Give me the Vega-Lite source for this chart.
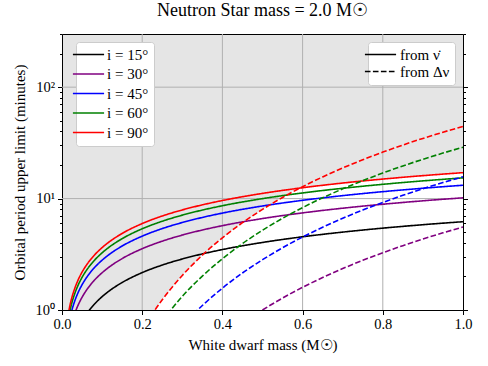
{
  "$schema": "https://vega.github.io/schema/vega-lite/v6.json",
  "width": 401,
  "height": 276,
  "autosize": {"type": "none"},
  "padding": {"left": 62, "top": 34, "right": 25, "bottom": 56},
  "config": {
    "font": "Liberation Serif",
    "view": {"fill": "#e5e5e5", "stroke": "black", "strokeWidth": 1},
    "axis": {"labelFont": "Liberation Serif", "titleFont": "Liberation Serif", "labelColor": "black", "titleColor": "black", "tickColor": "black", "titleFontWeight": "normal"},
    "legend": {"labelFont": "Liberation Serif", "labelColor": "black"}
  },
  "title": {"text": "Neutron Star mass = 2.0 M☉", "fontSize": 18, "fontWeight": "normal", "font": "Liberation Serif", "offset": 6, "color": "black"},
  "datasets": {
    "boundary": [
      {"m": 0.2, "P": 0.661}, {"m": 0.22, "P": 0.864}, {"m": 0.25, "P": 1.235}, {"m": 0.3, "P": 2.042},
      {"m": 0.35, "P": 3.105}, {"m": 0.4, "P": 4.444}, {"m": 0.45, "P": 6.072}, {"m": 0.5, "P": 8.0},
      {"m": 0.55, "P": 10.234}, {"m": 0.5934, "P": 12.43}, {"m": 0.6, "P": 12.515}, {"m": 0.7, "P": 13.786},
      {"m": 0.8, "P": 14.963}, {"m": 0.9, "P": 16.061}, {"m": 1.0, "P": 17.09}
    ],
    "gridx": [{"m": 0.2}, {"m": 0.4}, {"m": 0.6}, {"m": 0.8}],
    "gridy": [{"P": 10}, {"P": 100}],
    "curves": [
      {"i": "i = 15°", "src": "from ν̇", "m": 0.06, "P": 0.907},
      {"i": "i = 15°", "src": "from ν̇", "m": 0.07, "P": 1.016},
      {"i": "i = 15°", "src": "from ν̇", "m": 0.08, "P": 1.12},
      {"i": "i = 15°", "src": "from ν̇", "m": 0.1, "P": 1.318},
      {"i": "i = 15°", "src": "from ν̇", "m": 0.12, "P": 1.504},
      {"i": "i = 15°", "src": "from ν̇", "m": 0.15, "P": 1.765},
      {"i": "i = 15°", "src": "from ν̇", "m": 0.2, "P": 2.166},
      {"i": "i = 15°", "src": "from ν̇", "m": 0.25, "P": 2.531},
      {"i": "i = 15°", "src": "from ν̇", "m": 0.3, "P": 2.871},
      {"i": "i = 15°", "src": "from ν̇", "m": 0.35, "P": 3.188},
      {"i": "i = 15°", "src": "from ν̇", "m": 0.4, "P": 3.487},
      {"i": "i = 15°", "src": "from ν̇", "m": 0.5, "P": 4.039},
      {"i": "i = 15°", "src": "from ν̇", "m": 0.6, "P": 4.541},
      {"i": "i = 15°", "src": "from ν̇", "m": 0.7, "P": 5.002},
      {"i": "i = 15°", "src": "from ν̇", "m": 0.8, "P": 5.429},
      {"i": "i = 15°", "src": "from ν̇", "m": 0.9, "P": 5.828},
      {"i": "i = 15°", "src": "from ν̇", "m": 1.0, "P": 6.201},

      {"i": "i = 30°", "src": "from ν̇", "m": 0.03, "P": 0.89},
      {"i": "i = 30°", "src": "from ν̇", "m": 0.035, "P": 0.999},
      {"i": "i = 30°", "src": "from ν̇", "m": 0.04, "P": 1.102},
      {"i": "i = 30°", "src": "from ν̇", "m": 0.05, "P": 1.3},
      {"i": "i = 30°", "src": "from ν̇", "m": 0.06, "P": 1.487},
      {"i": "i = 30°", "src": "from ν̇", "m": 0.07, "P": 1.665},
      {"i": "i = 30°", "src": "from ν̇", "m": 0.08, "P": 1.836},
      {"i": "i = 30°", "src": "from ν̇", "m": 0.1, "P": 2.16},
      {"i": "i = 30°", "src": "from ν̇", "m": 0.12, "P": 2.465},
      {"i": "i = 30°", "src": "from ν̇", "m": 0.15, "P": 2.893},
      {"i": "i = 30°", "src": "from ν̇", "m": 0.2, "P": 3.549},
      {"i": "i = 30°", "src": "from ν̇", "m": 0.25, "P": 4.148},
      {"i": "i = 30°", "src": "from ν̇", "m": 0.3, "P": 4.704},
      {"i": "i = 30°", "src": "from ν̇", "m": 0.35, "P": 5.224},
      {"i": "i = 30°", "src": "from ν̇", "m": 0.4, "P": 5.714},
      {"i": "i = 30°", "src": "from ν̇", "m": 0.5, "P": 6.619},
      {"i": "i = 30°", "src": "from ν̇", "m": 0.6, "P": 7.441},
      {"i": "i = 30°", "src": "from ν̇", "m": 0.7, "P": 8.197},
      {"i": "i = 30°", "src": "from ν̇", "m": 0.8, "P": 8.897},
      {"i": "i = 30°", "src": "from ν̇", "m": 0.9, "P": 9.55},
      {"i": "i = 30°", "src": "from ν̇", "m": 1.0, "P": 10.161},

      {"i": "i = 45°", "src": "from ν̇", "m": 0.02, "P": 0.854},
      {"i": "i = 45°", "src": "from ν̇", "m": 0.025, "P": 1.008},
      {"i": "i = 45°", "src": "from ν̇", "m": 0.03, "P": 1.154},
      {"i": "i = 45°", "src": "from ν̇", "m": 0.04, "P": 1.429},
      {"i": "i = 45°", "src": "from ν̇", "m": 0.05, "P": 1.685},
      {"i": "i = 45°", "src": "from ν̇", "m": 0.06, "P": 1.927},
      {"i": "i = 45°", "src": "from ν̇", "m": 0.07, "P": 2.159},
      {"i": "i = 45°", "src": "from ν̇", "m": 0.08, "P": 2.381},
      {"i": "i = 45°", "src": "from ν̇", "m": 0.1, "P": 2.8},
      {"i": "i = 45°", "src": "from ν̇", "m": 0.12, "P": 3.196},
      {"i": "i = 45°", "src": "from ν̇", "m": 0.15, "P": 3.751},
      {"i": "i = 45°", "src": "from ν̇", "m": 0.2, "P": 4.601},
      {"i": "i = 45°", "src": "from ν̇", "m": 0.25, "P": 5.379},
      {"i": "i = 45°", "src": "from ν̇", "m": 0.3, "P": 6.099},
      {"i": "i = 45°", "src": "from ν̇", "m": 0.35, "P": 6.774},
      {"i": "i = 45°", "src": "from ν̇", "m": 0.4, "P": 7.409},
      {"i": "i = 45°", "src": "from ν̇", "m": 0.5, "P": 8.582},
      {"i": "i = 45°", "src": "from ν̇", "m": 0.6, "P": 9.648},
      {"i": "i = 45°", "src": "from ν̇", "m": 0.7, "P": 10.628},
      {"i": "i = 45°", "src": "from ν̇", "m": 0.8, "P": 11.536},
      {"i": "i = 45°", "src": "from ν̇", "m": 0.9, "P": 12.382},
      {"i": "i = 45°", "src": "from ν̇", "m": 1.0, "P": 13.175},

      {"i": "i = 60°", "src": "from ν̇", "m": 0.015, "P": 0.802},
      {"i": "i = 60°", "src": "from ν̇", "m": 0.02, "P": 0.994},
      {"i": "i = 60°", "src": "from ν̇", "m": 0.025, "P": 1.174},
      {"i": "i = 60°", "src": "from ν̇", "m": 0.03, "P": 1.344},
      {"i": "i = 60°", "src": "from ν̇", "m": 0.04, "P": 1.664},
      {"i": "i = 60°", "src": "from ν̇", "m": 0.05, "P": 1.962},
      {"i": "i = 60°", "src": "from ν̇", "m": 0.06, "P": 2.244},
      {"i": "i = 60°", "src": "from ν̇", "m": 0.07, "P": 2.513},
      {"i": "i = 60°", "src": "from ν̇", "m": 0.08, "P": 2.772},
      {"i": "i = 60°", "src": "from ν̇", "m": 0.1, "P": 3.26},
      {"i": "i = 60°", "src": "from ν̇", "m": 0.12, "P": 3.721},
      {"i": "i = 60°", "src": "from ν̇", "m": 0.15, "P": 4.367},
      {"i": "i = 60°", "src": "from ν̇", "m": 0.2, "P": 5.357},
      {"i": "i = 60°", "src": "from ν̇", "m": 0.25, "P": 6.263},
      {"i": "i = 60°", "src": "from ν̇", "m": 0.3, "P": 7.102},
      {"i": "i = 60°", "src": "from ν̇", "m": 0.35, "P": 7.887},
      {"i": "i = 60°", "src": "from ν̇", "m": 0.4, "P": 8.627},
      {"i": "i = 60°", "src": "from ν̇", "m": 0.5, "P": 9.992},
      {"i": "i = 60°", "src": "from ν̇", "m": 0.6, "P": 11.234},
      {"i": "i = 60°", "src": "from ν̇", "m": 0.7, "P": 12.374},
      {"i": "i = 60°", "src": "from ν̇", "m": 0.8, "P": 13.431},
      {"i": "i = 60°", "src": "from ν̇", "m": 0.9, "P": 14.417},
      {"i": "i = 60°", "src": "from ν̇", "m": 1.0, "P": 15.34},

      {"i": "i = 90°", "src": "from ν̇", "m": 0.015, "P": 0.894},
      {"i": "i = 90°", "src": "from ν̇", "m": 0.02, "P": 1.108},
      {"i": "i = 90°", "src": "from ν̇", "m": 0.025, "P": 1.308},
      {"i": "i = 90°", "src": "from ν̇", "m": 0.03, "P": 1.497},
      {"i": "i = 90°", "src": "from ν̇", "m": 0.04, "P": 1.854},
      {"i": "i = 90°", "src": "from ν̇", "m": 0.05, "P": 2.186},
      {"i": "i = 90°", "src": "from ν̇", "m": 0.06, "P": 2.5},
      {"i": "i = 90°", "src": "from ν̇", "m": 0.07, "P": 2.8},
      {"i": "i = 90°", "src": "from ν̇", "m": 0.08, "P": 3.088},
      {"i": "i = 90°", "src": "from ν̇", "m": 0.1, "P": 3.632},
      {"i": "i = 90°", "src": "from ν̇", "m": 0.12, "P": 4.145},
      {"i": "i = 90°", "src": "from ν̇", "m": 0.15, "P": 4.865},
      {"i": "i = 90°", "src": "from ν̇", "m": 0.2, "P": 5.968},
      {"i": "i = 90°", "src": "from ν̇", "m": 0.25, "P": 6.977},
      {"i": "i = 90°", "src": "from ν̇", "m": 0.3, "P": 7.911},
      {"i": "i = 90°", "src": "from ν̇", "m": 0.35, "P": 8.786},
      {"i": "i = 90°", "src": "from ν̇", "m": 0.4, "P": 9.61},
      {"i": "i = 90°", "src": "from ν̇", "m": 0.5, "P": 11.131},
      {"i": "i = 90°", "src": "from ν̇", "m": 0.6, "P": 12.515},
      {"i": "i = 90°", "src": "from ν̇", "m": 0.7, "P": 13.786},
      {"i": "i = 90°", "src": "from ν̇", "m": 0.8, "P": 14.963},
      {"i": "i = 90°", "src": "from ν̇", "m": 0.9, "P": 16.061},
      {"i": "i = 90°", "src": "from ν̇", "m": 1.0, "P": 17.09},

      {"i": "i = 90°", "src": "from Δν", "m": 0.2, "P": 0.661},
      {"i": "i = 90°", "src": "from Δν", "m": 0.22, "P": 0.864},
      {"i": "i = 90°", "src": "from Δν", "m": 0.25, "P": 1.235},
      {"i": "i = 90°", "src": "from Δν", "m": 0.3, "P": 2.042},
      {"i": "i = 90°", "src": "from Δν", "m": 0.35, "P": 3.105},
      {"i": "i = 90°", "src": "from Δν", "m": 0.4, "P": 4.444},
      {"i": "i = 90°", "src": "from Δν", "m": 0.45, "P": 6.072},
      {"i": "i = 90°", "src": "from Δν", "m": 0.5, "P": 8.0},
      {"i": "i = 90°", "src": "from Δν", "m": 0.55, "P": 10.234},
      {"i": "i = 90°", "src": "from Δν", "m": 0.6, "P": 12.781},
      {"i": "i = 90°", "src": "from Δν", "m": 0.65, "P": 15.643},
      {"i": "i = 90°", "src": "from Δν", "m": 0.7, "P": 18.82},
      {"i": "i = 90°", "src": "from Δν", "m": 0.75, "P": 22.314},
      {"i": "i = 90°", "src": "from Δν", "m": 0.8, "P": 26.122},
      {"i": "i = 90°", "src": "from Δν", "m": 0.85, "P": 30.243},
      {"i": "i = 90°", "src": "from Δν", "m": 0.9, "P": 34.673},
      {"i": "i = 90°", "src": "from Δν", "m": 0.95, "P": 39.408},
      {"i": "i = 90°", "src": "from Δν", "m": 1.0, "P": 44.444},

      {"i": "i = 60°", "src": "from Δν", "m": 0.25, "P": 0.802},
      {"i": "i = 60°", "src": "from Δν", "m": 0.3, "P": 1.326},
      {"i": "i = 60°", "src": "from Δν", "m": 0.35, "P": 2.017},
      {"i": "i = 60°", "src": "from Δν", "m": 0.4, "P": 2.887},
      {"i": "i = 60°", "src": "from Δν", "m": 0.45, "P": 3.944},
      {"i": "i = 60°", "src": "from Δν", "m": 0.5, "P": 5.196},
      {"i": "i = 60°", "src": "from Δν", "m": 0.55, "P": 6.647},
      {"i": "i = 60°", "src": "from Δν", "m": 0.6, "P": 8.301},
      {"i": "i = 60°", "src": "from Δν", "m": 0.65, "P": 10.16},
      {"i": "i = 60°", "src": "from Δν", "m": 0.7, "P": 12.224},
      {"i": "i = 60°", "src": "from Δν", "m": 0.75, "P": 14.493},
      {"i": "i = 60°", "src": "from Δν", "m": 0.8, "P": 16.967},
      {"i": "i = 60°", "src": "from Δν", "m": 0.85, "P": 19.643},
      {"i": "i = 60°", "src": "from Δν", "m": 0.9, "P": 22.52},
      {"i": "i = 60°", "src": "from Δν", "m": 0.95, "P": 25.596},
      {"i": "i = 60°", "src": "from Δν", "m": 1.0, "P": 28.867},

      {"i": "i = 45°", "src": "from Δν", "m": 0.3, "P": 0.722},
      {"i": "i = 45°", "src": "from Δν", "m": 0.35, "P": 1.098},
      {"i": "i = 45°", "src": "from Δν", "m": 0.4, "P": 1.571},
      {"i": "i = 45°", "src": "from Δν", "m": 0.45, "P": 2.147},
      {"i": "i = 45°", "src": "from Δν", "m": 0.5, "P": 2.828},
      {"i": "i = 45°", "src": "from Δν", "m": 0.55, "P": 3.618},
      {"i": "i = 45°", "src": "from Δν", "m": 0.6, "P": 4.518},
      {"i": "i = 45°", "src": "from Δν", "m": 0.65, "P": 5.53},
      {"i": "i = 45°", "src": "from Δν", "m": 0.7, "P": 6.653},
      {"i": "i = 45°", "src": "from Δν", "m": 0.75, "P": 7.888},
      {"i": "i = 45°", "src": "from Δν", "m": 0.8, "P": 9.234},
      {"i": "i = 45°", "src": "from Δν", "m": 0.85, "P": 10.691},
      {"i": "i = 45°", "src": "from Δν", "m": 0.9, "P": 12.257},
      {"i": "i = 45°", "src": "from Δν", "m": 0.95, "P": 13.931},
      {"i": "i = 45°", "src": "from Δν", "m": 1.0, "P": 15.711},

      {"i": "i = 30°", "src": "from Δν", "m": 0.45, "P": 0.759},
      {"i": "i = 30°", "src": "from Δν", "m": 0.5, "P": 1.0},
      {"i": "i = 30°", "src": "from Δν", "m": 0.55, "P": 1.279},
      {"i": "i = 30°", "src": "from Δν", "m": 0.6, "P": 1.598},
      {"i": "i = 30°", "src": "from Δν", "m": 0.65, "P": 1.955},
      {"i": "i = 30°", "src": "from Δν", "m": 0.7, "P": 2.353},
      {"i": "i = 30°", "src": "from Δν", "m": 0.75, "P": 2.789},
      {"i": "i = 30°", "src": "from Δν", "m": 0.8, "P": 3.265},
      {"i": "i = 30°", "src": "from Δν", "m": 0.85, "P": 3.78},
      {"i": "i = 30°", "src": "from Δν", "m": 0.9, "P": 4.334},
      {"i": "i = 30°", "src": "from Δν", "m": 0.95, "P": 4.926},
      {"i": "i = 30°", "src": "from Δν", "m": 1.0, "P": 5.556}
    ]
  },
  "layer": [
    {
      "data": {"name": "boundary"},
      "mark": {"type": "area", "color": "white", "interpolate": "monotone", "clip": true},
      "encoding": {
        "x": {
          "field": "m", "type": "quantitative", "scale": {"domain": [0, 1]},
          "axis": {
            "title": "White dwarf mass (M☉)", "titleFontSize": 15, "titlePadding": 6,
            "values": [0, 0.2, 0.4, 0.6, 0.8, 1.0], "format": ".1f",
            "labelFontSize": 14.5, "labelPadding": 3, "labelFlush": false,
            "grid": false, "domain": false, "tickSize": 4.5, "tickWidth": 1
          }
        },
        "y": {"field": "P", "type": "quantitative", "scale": {"type": "log", "domain": [1, 300]}, "axis": null},
        "y2": {"datum": 1}
      }
    },
    {
      "data": {"name": "gridx"},
      "mark": {"type": "rule", "color": "#b0b0b0", "strokeWidth": 1},
      "encoding": {
        "x": {
          "field": "m", "type": "quantitative", "scale": {"domain": [0, 1]},
          "axis": {
            "title": "White dwarf mass (M☉)", "titleFontSize": 15, "titlePadding": 6,
            "values": [0, 0.2, 0.4, 0.6, 0.8, 1.0], "format": ".1f",
            "labelFontSize": 14.5, "labelPadding": 3, "labelFlush": false,
            "grid": false, "domain": false, "tickSize": 4.5, "tickWidth": 1
          }
        }
      }
    },
    {
      "data": {"name": "gridy"},
      "mark": {"type": "rule", "color": "#b0b0b0", "strokeWidth": 1},
      "encoding": {
        "y": {
          "field": "P", "type": "quantitative",
          "scale": {"type": "log", "domain": [1, 300]},
          "axis": {
            "orient": "right", "title": null, "labels": false, "grid": false, "domain": false,
            "values": [1, 2, 3, 4, 5, 6, 7, 8, 9, 10, 20, 30, 40, 50, 60, 70, 80, 90, 100, 200, 300],
            "tickWidth": 1, "tickColor": "black",
            "tickSize": {"condition": {"test": "datum.value == 1 || datum.value == 10 || datum.value == 100", "value": 4.5}, "value": 2.5}
          }
        }
      }
    },
    {
      "data": {"name": "curves"},
      "mark": {"type": "line", "strokeWidth": 1.6, "interpolate": "monotone", "clip": true},
      "encoding": {
        "x": {
          "field": "m", "type": "quantitative", "scale": {"domain": [0, 1]},
          "axis": {
            "title": "White dwarf mass (M☉)", "titleFontSize": 15, "titlePadding": 6,
            "values": [0, 0.2, 0.4, 0.6, 0.8, 1.0], "format": ".1f",
            "labelFontSize": 14.5, "labelPadding": 3, "labelFlush": false,
            "grid": false, "domain": false, "tickSize": 4.5, "tickWidth": 1
          }
        },
        "y": {
          "field": "P", "type": "quantitative",
          "scale": {"type": "log", "domain": [1, 300]},
          "axis": {
            "orient": "left", "title": "Orbital period upper limit (minutes)", "titleFontSize": 15, "titlePadding": 8,
            "values": [1, 2, 3, 4, 5, 6, 7, 8, 9, 10, 20, 30, 40, 50, 60, 70, 80, 90, 100, 200, 300],
            "labelExpr": "datum.value == 1 ? '10⁰' : datum.value == 10 ? '10¹' : datum.value == 100 ? '10²' : ''",
            "labelOverlap": false, "labelFlush": false, "labelFontSize": 14.5, "labelPadding": 3,
            "grid": false, "domain": false, "tickWidth": 1,
            "tickSize": {"condition": {"test": "datum.value == 1 || datum.value == 10 || datum.value == 100", "value": 4.5}, "value": 2.5}
          }
        },
        "color": {
          "field": "i", "type": "nominal",
          "scale": {"domain": ["i = 15°", "i = 30°", "i = 45°", "i = 60°", "i = 90°"], "range": ["black", "purple", "blue", "green", "red"]},
          "legend": {
            "orient": "none", "legendX": 14, "legendY": 8, "title": null,
            "symbolType": "M-3,0H3", "symbolSize": 108, "symbolStrokeWidth": 1.6,
            "labelFont": "Liberation Serif", "labelFontSize": 15, "labelColor": "black", "labelOffset": 11, "rowPadding": 3.5, "padding": 5,
            "fillColor": "white", "strokeColor": "#cccccc", "cornerRadius": 3
          }
        },
        "strokeDash": {
          "field": "src", "type": "nominal",
          "scale": {"domain": ["from ν̇", "from Δν"], "range": [[1, 0], [5.6, 2.4]]},
          "legend": {
            "orient": "top-right", "offset": 8, "title": null,
            "symbolType": "M-3,0H3", "symbolSize": 108, "symbolStrokeWidth": 1.6, "symbolStrokeColor": "black",
            "labelFont": "Liberation Serif", "labelFontSize": 15, "labelColor": "black", "labelOffset": 12, "rowPadding": 1, "padding": 5,
            "fillColor": "white", "strokeColor": "#cccccc", "cornerRadius": 3
          }
        }
      }
    }
  ],
  "resolve": {"scale": {"y": "shared", "x": "shared"}, "axis": {"y": "independent"}}
}
